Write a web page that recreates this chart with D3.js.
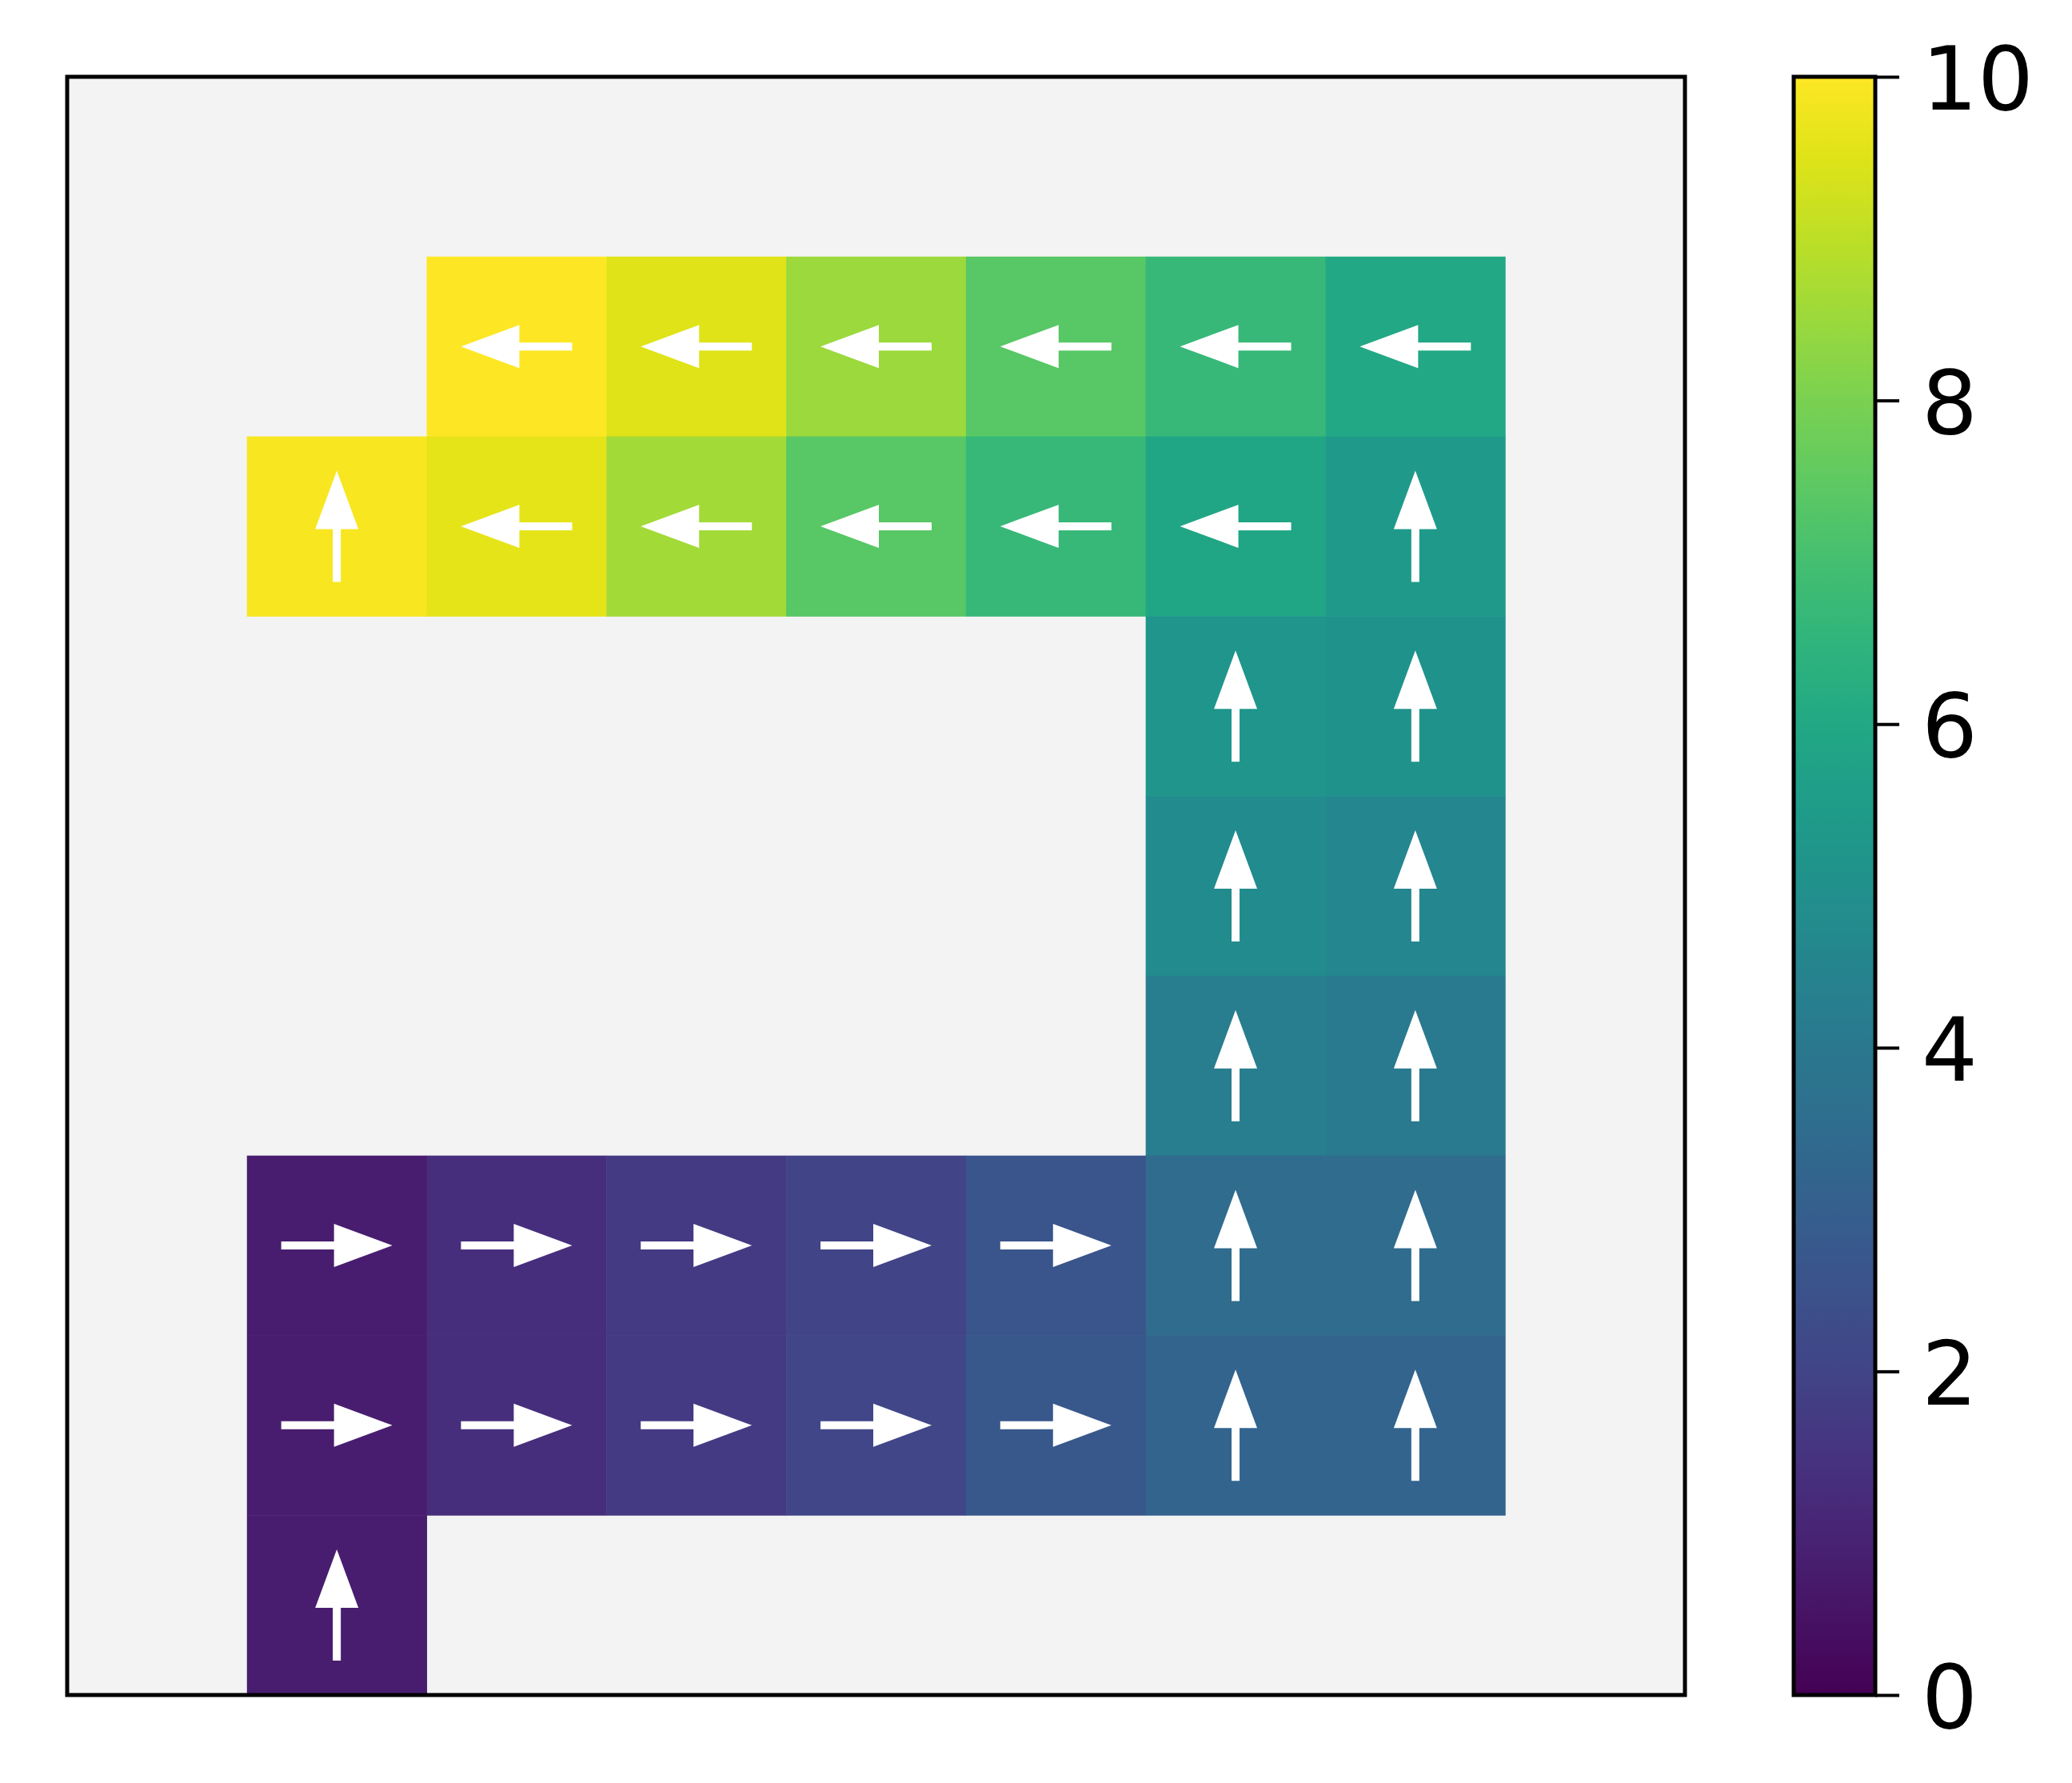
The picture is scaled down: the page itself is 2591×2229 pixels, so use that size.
<!DOCTYPE html>
<html>
<head>
<meta charset="utf-8">
<script src="https://cdn.jsdelivr.net/npm/d3@7"></script>
<style>
  html, body { margin: 0; padding: 0; background: #ffffff; }
  svg { display: block; }
</style>
</head>
<body>
<div id="chart"></div>
<script>
// grid cells: row, column, value and arrow direction
var cellRow   = [1, 1, 1, 1, 1, 1,   2, 2, 2, 2, 2, 2, 2,   3, 3,   4, 4,   5, 5,   6, 6, 6, 6, 6, 6, 6,   7, 7, 7, 7, 7, 7, 7,   8];
var cellCol   = [2, 3, 4, 5, 6, 7,   1, 2, 3, 4, 5, 6, 7,   6, 7,   6, 7,   6, 7,   1, 2, 3, 4, 5, 6, 7,   1, 2, 3, 4, 5, 6, 7,   1];
var cellValue = [10.0, 9.5, 8.5, 7.4, 6.7, 6.0,
                 9.9, 9.6, 8.6, 7.4, 6.7, 5.9, 5.4,
                 5.2, 5.1,
                 4.8, 4.6,
                 4.2, 4.1,
                 0.8, 1.3, 1.7, 2.0, 2.6, 3.5, 3.5,
                 0.8, 1.3, 1.7, 2.1, 2.7, 3.2, 3.2,
                 0.8];
var cellDir   = ["L", "L", "L", "L", "L", "L",
                 "U", "L", "L", "L", "L", "L", "U",
                 "U", "U",
                 "U", "U",
                 "U", "U",
                 "R", "R", "R", "R", "R", "U", "U",
                 "R", "R", "R", "R", "R", "U", "U",
                 "U"];
var gridSize = 9;
var colorTicks = [0, 2, 4, 6, 8, 10];

var W = 2591, H = 2229;
var plotX = 84, plotY = 96, plotS = 2023;
var cbX = 2243, cbW = 102;

var svg = d3.select("#chart").append("svg")
  .attr("width", W)
  .attr("height", H);

var idx = d3.range(gridSize);
var x = d3.scaleBand().domain(idx).range([plotX, plotX + plotS]);
var y = d3.scaleBand().domain(idx).range([plotY, plotY + plotS]);
var color = d3.scaleSequential(d3.interpolateViridis).domain([0, 10]);

var cells = cellValue.map(function(v, i) {
  return { r: cellRow[i], c: cellCol[i], v: v, d: cellDir[i] };
});

// background of the axes
svg.append("rect")
  .attr("x", plotX).attr("y", plotY)
  .attr("width", plotS).attr("height", plotS)
  .attr("fill", "#f3f3f3");

svg.append("g").selectAll("rect")
  .data(cells)
  .enter()
  .append("rect")
  .attr("x", function(d) { return x(d.c); })
  .attr("y", function(d) { return y(d.r); })
  .attr("width", x.bandwidth() + 0.5)
  .attr("height", y.bandwidth() + 0.5)
  .attr("fill", function(d) { return color(d.v); });

// arrow pointing right, centred on 0,0
var len = 139, headLen = 73, headW = 54, shaftW = 10;
function arrowPath() {
  var t = len / 2, b = -len / 2, hb = t - headLen;
  return "M" + b + "," + (-shaftW / 2) +
    "L" + hb + "," + (-shaftW / 2) +
    "L" + hb + "," + (-headW / 2) +
    "L" + t + ",0" +
    "L" + hb + "," + (headW / 2) +
    "L" + hb + "," + (shaftW / 2) +
    "L" + b + "," + (shaftW / 2) + "Z";
}
var rot = { R: 0, L: 180, U: -90 };

svg.append("g").selectAll("path")
  .data(cells)
  .enter()
  .append("path")
  .attr("d", arrowPath())
  .attr("fill", "#ffffff")
  .attr("transform", function(d) {
    return "translate(" + (x(d.c) + x.bandwidth() / 2) + "," + (y(d.r) + y.bandwidth() / 2) + ") rotate(" + rot[d.d] + ")";
  });

svg.append("rect")
  .attr("x", plotX).attr("y", plotY)
  .attr("width", plotS).attr("height", plotS)
  .attr("fill", "none")
  .attr("stroke", "#000")
  .attr("stroke-width", 5);

// colorbar
var cb = d3.scaleLinear().domain([0, 10]).range([plotY + plotS, plotY]);
var grad = svg.append("defs").append("linearGradient")
  .attr("id", "cbgrad")
  .attr("x1", "0").attr("y1", "1").attr("x2", "0").attr("y2", "0");
d3.range(0, 1.0001, 0.05).forEach(function(t) {
  grad.append("stop")
    .attr("offset", t)
    .attr("stop-color", d3.interpolateViridis(t));
});
svg.append("rect")
  .attr("x", cbX).attr("y", plotY)
  .attr("width", cbW).attr("height", plotS)
  .attr("fill", "url(#cbgrad)")
  .attr("stroke", "#000")
  .attr("stroke-width", 5);

var axis = svg.append("g")
  .attr("transform", "translate(" + (cbX + cbW) + ",0)")
  .call(d3.axisRight(cb).tickValues(colorTicks).tickSize(30).tickPadding(28));
axis.select(".domain").remove();
axis.selectAll(".tick line").attr("stroke", "#000").attr("stroke-width", 4);
axis.selectAll(".tick text")
  .attr("fill", "#000")
  .attr("dy", "0.37em")
  .style("font-family", "'DejaVu Sans', sans-serif")
  .style("font-size", "110px");
</script>
</body>
</html>
